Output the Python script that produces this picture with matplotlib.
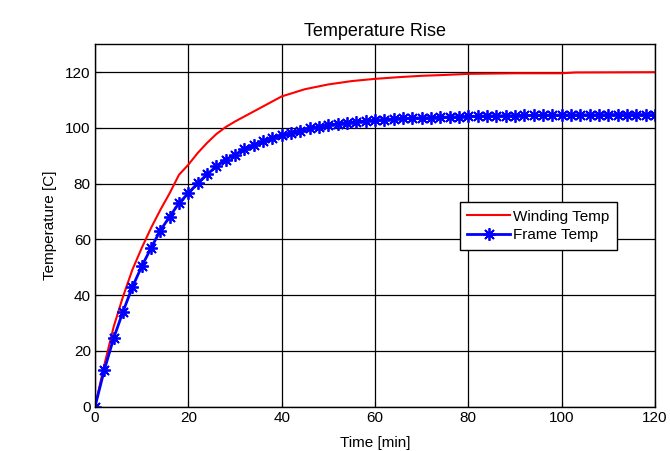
import numpy as np
import matplotlib as mpl
mpl.use("Agg")
from matplotlib import pyplot as plt

plt.rcParams['font.family'] = ['Liberation Sans', 'DejaVu Sans']

# winding temperature (red, no markers)
wind_t = [0, 2, 4, 6, 8, 10, 12, 14, 16, 18, 20, 22, 24, 26, 28, 30, 32, 34, 36, 38, 40,
          45, 50, 55, 60, 65, 70, 75, 80, 90, 100, 103, 120]
wind_temp = [0, 15.0, 28.7, 39.5, 49.1, 56.9, 64.1, 70.6, 76.6, 83.2, 86.8, 91.0, 94.6, 97.8,
             100.3, 102.3, 104.1, 105.9, 107.7, 109.5, 111.3, 113.9, 115.6, 116.8, 117.6,
             118.2, 118.7, 119.0, 119.4, 119.6, 119.6, 119.9, 120.0]

# frame temperature (blue, asterisk markers every 2 min)
frame_t = list(range(0, 121, 2))
frame_temp = [0, 13.2, 24.6, 34.1, 42.9, 50.3, 56.9, 63.2, 68.2, 73.0, 76.6, 80.2, 83.3, 86.2,
              88.6, 90.4, 92.4, 93.7, 95.2, 96.4, 97.3, 98.2, 99.0, 99.8, 100.5, 101.0, 101.5,
              101.9, 102.2, 102.5, 102.8, 103.0, 103.2, 103.4, 103.5, 103.6, 103.7, 103.8,
              103.9, 104.0, 104.1, 104.2, 104.3, 104.3, 104.4, 104.4, 104.5, 104.5, 104.6,
              104.6, 104.6, 104.7, 104.7, 104.7, 104.7, 104.8, 104.8, 104.8, 104.8, 104.8, 104.8]

fig = plt.figure(figsize=(6.7, 4.51), dpi=100)
ax = fig.add_axes([0.1418, 0.0982, 0.8358, 0.8036])

ax.plot(wind_t, wind_temp, ls="-", lw=1.5, color="r", label="Winding Temp")
ax.plot(frame_t, frame_temp, ls="-", lw=2, color="b", marker=(8, 2, 0), ms=9, mew=1.3,
        label="Frame Temp")

ax.set_xlim(0, 120)
ax.set_ylim(0, 130)
ax.set_xticks(np.arange(0, 121, 20))
ax.set_yticks(np.arange(0, 121, 20))
ax.tick_params(direction="in", labelsize=11, length=4, pad=3)
ax.grid(color="k", linestyle="-", linewidth=0.9)
for s in ax.spines.values():
    s.set_linewidth(1)

ax.set_xlabel("Time [min]", fontsize=11, labelpad=8)
ax.set_ylabel("Temperature [C]", fontsize=11, labelpad=6)
ax.set_title("Temperature Rise", fontsize=13, pad=6)

leg = ax.legend(loc="upper right", bbox_to_anchor=(0.932, 0.565), fontsize=11,
                fancybox=False, framealpha=1, edgecolor="k", handlelength=2.8,
                handletextpad=0.2, borderpad=0.5, labelspacing=0.3, borderaxespad=0)
leg.get_frame().set_linewidth(1)

fig.savefig("out.png", dpi=100)
